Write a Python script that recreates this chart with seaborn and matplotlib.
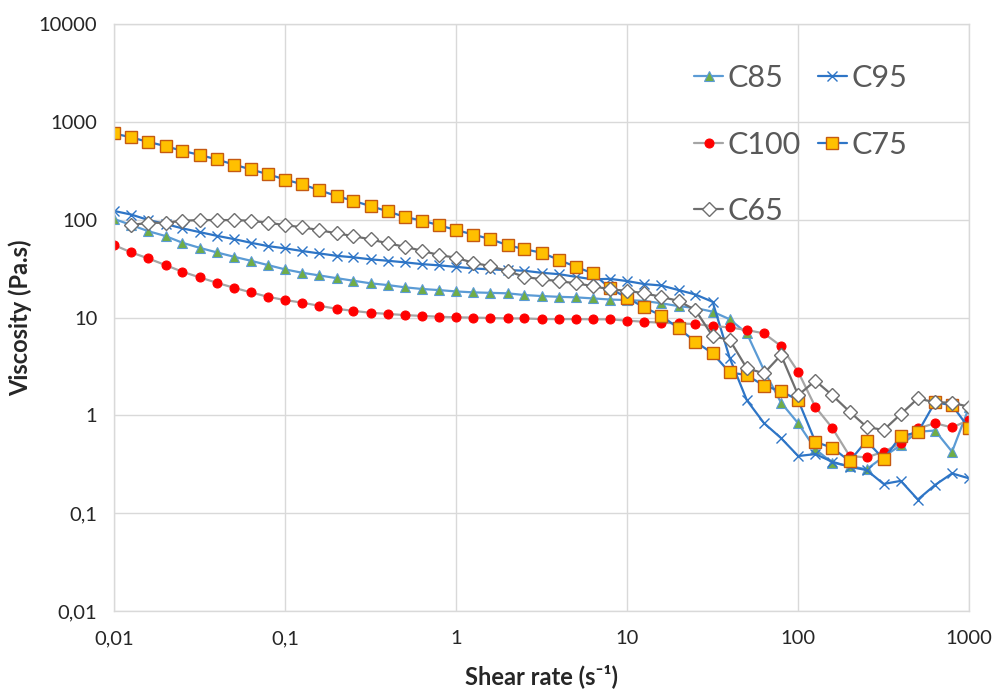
import numpy as np
import pandas as pd
import matplotlib
matplotlib.use("Agg")
import matplotlib.pyplot as plt
import seaborn as sns

# shear rate sweep, 10 points per decade (s-1)
shear_rate = [0.01, 0.0126, 0.0158, 0.02, 0.0251, 0.0316, 0.0398, 0.0501, 0.0631, 0.0794,
              0.1, 0.126, 0.158, 0.2, 0.251, 0.316, 0.398, 0.501, 0.631, 0.794,
              1, 1.26, 1.58, 2, 2.51, 3.16, 3.98, 5.01, 6.31, 7.94,
              10, 12.6, 15.8, 20, 25.1, 31.6, 39.8, 50.1, 63.1, 79.4,
              100, 126, 158, 200, 251, 316, 398, 501, 631, 794, 1000]

# viscosity (Pa.s)
c85 = [102, 88.3, 76.6, 68.1, 58.2, 51.7, 46.4, 41.9, 38.1, 34.4,
       31.1, 28.7, 27, 25.3, 23.8, 22.4, 21.5, 20.4, 19.6, 19.1,
       18.5, 18.1, 17.9, 17.7, 17, 16.6, 16.3, 16.1, 15.7, 15.3,
       15.1, 14.8, 14, 13.1, 12.5, 11.5, 9.6, 6.9, 2.9, 1.35,
       0.83, 0.452, 0.328, 0.303, 0.281, 0.377, 0.497, 0.68, 0.70, 0.425, 1.22]

c95 = [123, 113, 99.7, 90.4, 81.7, 74.8, 68.6, 63.5, 58.2, 53.8,
       51, 47.9, 45.3, 42.8, 41.3, 39.4, 38.1, 36.7, 35.2, 34.2,
       33, 31.8, 31.1, 30.6, 30.1, 28.7, 27.8, 26.1, 24.6, 24.9,
       23.6, 22, 21.3, 19.1, 17.2, 14.5, 3.85, 1.43, 0.834, 0.586,
       0.384, 0.402, 0.336, 0.298, 0.276, 0.199, 0.214, 0.138, 0.194, 0.255, 0.227]

c100 = [55.1, 46.4, 40.3, 34.4, 29.4, 25.8, 22.7, 20.2, 18.1, 16.3,
        15.1, 14.2, 13.2, 12.3, 11.7, 11.2, 10.9, 10.6, 10.4, 10.2,
        10.05, 10, 9.9, 9.8, 9.8, 9.65, 9.65, 9.65, 9.6, 9.6,
        9.3, 9.06, 8.85, 8.73, 8.58, 8.19, 7.94, 7.45, 6.9, 5.11,
        2.79, 1.22, 0.747, 0.384, 0.372, 0.425, 0.517, 0.736, 0.83, 0.754, 0.895]

c75 = [763, 695, 626, 566, 506, 461, 414, 367, 327, 292,
       258, 230, 201, 175, 156, 138, 122, 107, 98, 88,
       78.5, 70.6, 63.5, 55, 50, 46, 39, 33, 28.3, 19.9,
       15.9, 12.7, 10.5, 7.76, 5.66, 4.3, 2.75, 2.58, 2.01, 1.77,
       1.43, 0.537, 0.466, 0.341, 0.55, 0.357, 0.614, 0.67, 1.36, 1.27, 0.736]

# C65 starts at the second shear rate
c65 = [88.3, 93.1, 93.1, 97.7, 99.3, 99.3, 99.3, 97.7, 93.1,
       88.3, 83.6, 78.5, 72.6, 68.1, 63, 57.4, 53, 48.2, 43.6,
       40.9, 36.3, 33.6, 29.9, 26.1, 24.6, 23.6, 22.4, 21, 19.4,
       18.8, 17.7, 16.3, 14.8, 11.9, 6.47, 5.89, 3.03, 2.69, 4.14,
       1.61, 2.26, 1.61, 1.09, 0.764, 0.708, 1.03, 1.49, 1.36, 1.35, 1.22]

tick_values = [0.01, 0.1, 1, 10, 100, 1000, 10000]
tick_labels = ["0,01", "0,1", "1", "10", "100", "1000", "10000"]

sns.set_style("white")
plt.rcParams['font.family'] = ['Lato', 'DejaVu Sans']

fig, ax = plt.subplots(figsize=(9.92, 6.9), dpi=100)
fig.subplots_adjust(left=0.115, right=0.977, top=0.965, bottom=0.1145)

series = [
    ("C85", shear_rate, c85, dict(color="#5B9BD5", marker="^", markersize=7.5,
                                  markerfacecolor="#70AD47", markeredgecolor="#5B9BD5", markeredgewidth=0.8)),
    ("C95", shear_rate, c95, dict(color="#2E75C6", marker="x", markersize=7,
                                  markeredgecolor="#2E75C6", markeredgewidth=1.0)),
    ("C100", shear_rate, c100, dict(color="#A5A5A5", marker="o", markersize=6.5,
                                    markerfacecolor="#FF0000", markeredgecolor="#FF0000")),
    ("C75", shear_rate, c75, dict(color="#2E75C6", marker="s", markersize=9,
                                  markerfacecolor="#FFC000", markeredgecolor="#C55A11", markeredgewidth=1.0)),
    ("C65", shear_rate[1:], c65, dict(color="#6E6E6E", marker="D", markersize=7,
                                      markerfacecolor="white", markeredgecolor="#6E6E6E", markeredgewidth=1.0)),
]

for name, xs, ys, style in series:
    sns.lineplot(x=xs, y=ys, ax=ax, label=name, linewidth=1.6, errorbar=None, **style)

ax.set_xscale("log")
ax.set_yscale("log")
ax.set_xlim(0.01, 1000)
ax.set_ylim(0.01, 10000)

ax.set_xticks(tick_values[:6], tick_labels[:6])
ax.set_yticks(tick_values, tick_labels)
ax.minorticks_off()
ax.tick_params(axis="both", length=0, labelsize=14.5, colors="#262626")
ax.tick_params(axis="x", pad=14)
ax.tick_params(axis="y", pad=12)

ax.grid(True, which="major", color="#D9D9D9", linewidth=1)
for sp in ax.spines.values():
    sp.set_color("#D9D9D9")
    sp.set_linewidth(1)

ax.set_xlabel("Shear rate (s⁻¹)", fontsize=17, fontweight="bold", labelpad=12)
ax.set_ylabel("Viscosity (Pa.s)", fontsize=17, fontweight="bold", labelpad=5)

handles, labels = ax.get_legend_handles_labels()
order = [0, 2, 4, 1, 3]
ax.legend([handles[i] for i in order], [labels[i] for i in order],
          ncol=2, frameon=False, fontsize=22, loc="upper left",
          bbox_to_anchor=(0.6996, 0.907), bbox_transform=fig.transFigure,
          borderpad=0, borderaxespad=0, handlelength=0.95, handletextpad=0.16,
          columnspacing=0.55, labelspacing=1.26, labelcolor="#595959")

fig.savefig("out.png", dpi=100)
